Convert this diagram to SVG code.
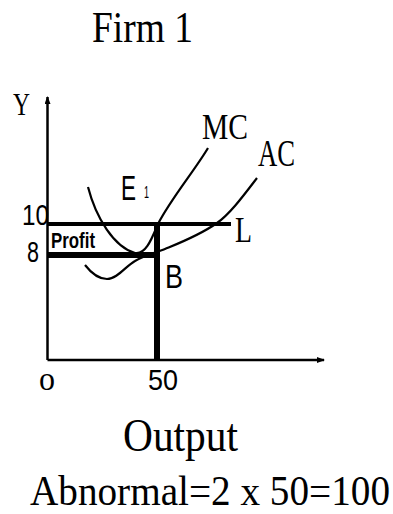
<svg xmlns="http://www.w3.org/2000/svg" width="393" height="514" viewBox="0 0 393 514">
<style>
.serif{font-family:"Liberation Serif","Times New Roman",serif;fill:#000}
.sans{font-family:"Liberation Sans",Arial,sans-serif;fill:#000}
.axis{stroke:#000;stroke-width:2.5;fill:none}
.curve{stroke:#000;stroke-width:2.2;fill:none}
.thick{stroke:#000;fill:none}
</style>
<defs>
<marker id="ah" viewBox="0 0 8 6" refX="7" refY="3" markerWidth="8" markerHeight="6" markerUnits="userSpaceOnUse" orient="auto">
<path d="M0,0 L8,3 L0,6 Z" fill="#000"/>
</marker>
</defs>
<rect width="393" height="514" fill="#fff"/>
<text class="serif" x="92" y="42" font-size="44" textLength="101" lengthAdjust="spacingAndGlyphs">Firm 1</text>
<g id="labels-axis">
<text class="sans" x="22" y="225" font-size="30" textLength="27" lengthAdjust="spacingAndGlyphs">10</text>
<text class="sans" x="27" y="262" font-size="30" textLength="12" lengthAdjust="spacingAndGlyphs">8</text>
</g>
<g id="axes">
<line class="axis" x1="47.5" y1="360" x2="47.5" y2="97" marker-end="url(#ah)"/>
<line class="axis" x1="47.5" y1="360" x2="324" y2="360" marker-end="url(#ah)"/>
</g>
<g id="curves">
<path id="MC" class="curve" d="M88,187 C96,218 114,247 135,253 C146,255 152,238 158,224 C170,200 195,170 208,148"/>
<path id="AC" class="curve" d="M85,265 C92,274 99,279 107,279 C117,279 126,266 135,261 C145,255 155,253 165,249 C182,242 200,235 217,223 C230,214 244,195 257,178"/>
</g>
<g id="lines">
<line class="thick" x1="47.5" y1="224" x2="231" y2="224" stroke-width="4"/>
<line class="thick" x1="47.5" y1="255" x2="157" y2="255" stroke-width="6"/>
<line class="thick" x1="157" y1="222" x2="157" y2="360" stroke-width="6"/>
</g>
<g id="labels">
<text class="serif" x="13" y="115" font-size="32" textLength="17" lengthAdjust="spacingAndGlyphs">Y</text>
<text class="serif" x="202" y="139" font-size="36" textLength="46" lengthAdjust="spacingAndGlyphs">MC</text>
<text class="serif" x="258" y="166" font-size="38" textLength="37" lengthAdjust="spacingAndGlyphs">AC</text>
<text class="serif" x="235" y="242" font-size="36" textLength="17" lengthAdjust="spacingAndGlyphs">L</text>
<text class="sans" x="165" y="288" font-size="34" textLength="18" lengthAdjust="spacingAndGlyphs">B</text>
<text class="sans" x="0" y="0" font-size="30" textLength="15" lengthAdjust="spacingAndGlyphs" transform="translate(121,200) scale(1,1.17)">E</text>
<text class="sans" x="144" y="198" font-size="16" textLength="5" lengthAdjust="spacingAndGlyphs">1</text>
<text class="sans" x="51" y="248" font-size="22" font-weight="bold" textLength="44" lengthAdjust="spacingAndGlyphs">Profit</text>
<text class="serif" x="39" y="390" font-size="34" textLength="16" lengthAdjust="spacingAndGlyphs">o</text>
<text class="sans" x="148" y="390" font-size="30" textLength="30" lengthAdjust="spacingAndGlyphs">50</text>
</g>
<text class="serif" x="123" y="451" font-size="46" textLength="115" lengthAdjust="spacingAndGlyphs">Output</text>
<text class="serif" x="0" y="0" font-size="39" textLength="360" lengthAdjust="spacingAndGlyphs" transform="translate(30,505) scale(1,1.1)">Abnormal=2 x 50=100</text>
</svg>
